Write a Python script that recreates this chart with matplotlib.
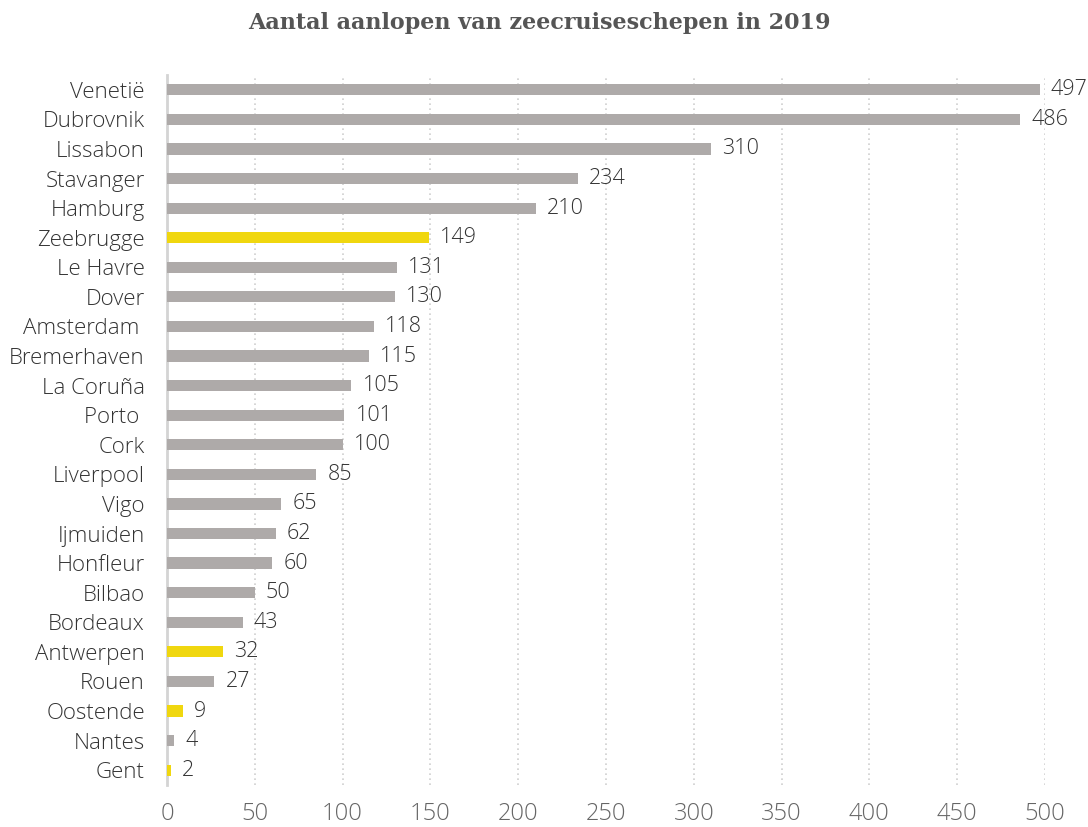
import matplotlib.pyplot as plt

plt.rcParams['font.family'] = ['Open Sans', 'DejaVu Sans']

ports = ["Venetië", "Dubrovnik", "Lissabon", "Stavanger", "Hamburg", "Zeebrugge",
         "Le Havre", "Dover", "Amsterdam ", "Bremerhaven", "La Coruña", "Porto ",
         "Cork", "Liverpool", "Vigo", "Ijmuiden", "Honfleur", "Bilbao", "Bordeaux",
         "Antwerpen", "Rouen", "Oostende", "Nantes", "Gent"]
calls = [497, 486, 310, 234, 210, 149, 131, 130, 118, 115, 105, 101, 100, 85,
         65, 62, 60, 50, 43, 32, 27, 9, 4, 2]
flemish = ["Zeebrugge", "Antwerpen", "Oostende", "Gent"]

GREY = "#aeaaa9"
YELLOW = "#f0d70f"
TEXT = "#333333"

fig = plt.figure(figsize=(10.88, 8.27), dpi=100)
ax = fig.add_axes([0.1535, 0.0508, 0.807, 0.8585])

ypos = list(range(len(ports)))
colors = [YELLOW if p in flemish else GREY for p in ports]
bars = ax.barh(ypos, calls, height=0.38, color=colors, zorder=3)
ax.bar_label(bars, labels=[str(v) for v in calls], padding=8,
             fontsize=15.5, fontweight="light", color=TEXT, clip_on=False)

ax.set_ylim(len(ports) - 0.5, -0.5)
ax.set_xlim(0, 500)
ax.set_yticks(ypos, ports)
ax.set_xticks(range(0, 501, 50))
ax.tick_params(axis='both', length=0, labelsize=16, colors=TEXT)
ax.tick_params(axis='y', pad=16)
ax.tick_params(axis='x', pad=12)
for lbl in ax.get_xticklabels():
    lbl.set_color("#666666")
    lbl.set_fontweight("light")
    lbl.set_fontsize(17)
for lbl in ax.get_yticklabels():
    lbl.set_fontweight("light")

for x in range(50, 501, 50):
    ax.axvline(x, color="#cfcfcf", linestyle=(0, (1, 2)), linewidth=1.2, zorder=1)

for s in ["top", "right", "bottom"]:
    ax.spines[s].set_visible(False)
ax.spines["left"].set_color("#d4d4d4")
ax.spines["left"].set_linewidth(2)

fig.text(0.496, 0.972, "Aantal aanlopen van zeecruiseschepen in 2019",
         ha="center", va="center", fontsize=16, fontweight="bold",
         family=["DejaVu Serif"], color="#555555")

fig.savefig("out.png", dpi=100)
